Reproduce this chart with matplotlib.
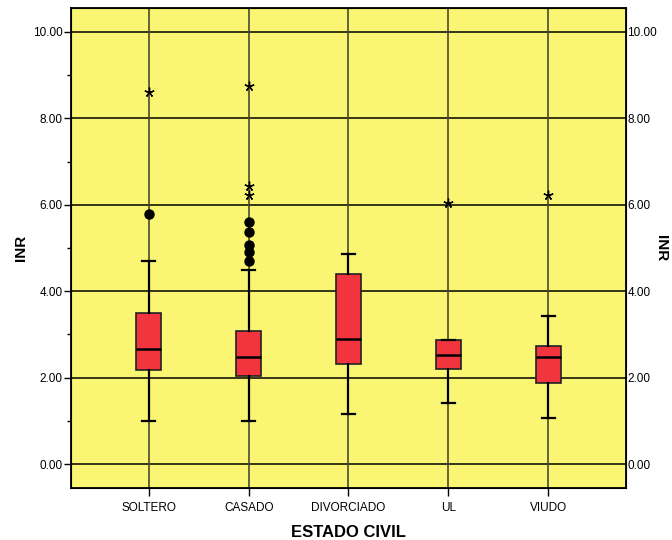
import matplotlib.pyplot as plt
from matplotlib.ticker import MultipleLocator, FormatStrFormatter

plt.rcParams['font.family'] = ['Liberation Sans', 'DejaVu Sans']

# datos INR por estado civil
grupos = ['SOLTERO', 'CASADO', 'DIVORCIADO', 'UL', 'VIUDO']
bigote_inf = [1.00, 1.00, 1.16, 1.41, 1.07]
q1 = [2.18, 2.05, 2.32, 2.20, 1.88]
mediana = [2.67, 2.49, 2.90, 2.53, 2.48]
q3 = [3.50, 3.08, 4.41, 2.88, 2.74]
bigote_sup = [4.69, 4.50, 4.87, 2.88, 3.43]
atipicos = [[5.78], [4.69, 4.90, 5.08, 5.38, 5.59], [], [], []]
extremos = [[8.61], [6.22, 6.43, 8.75], [], [6.03], [6.22]]

stats = []
for i, g in enumerate(grupos):
    stats.append({'label': g, 'whislo': bigote_inf[i], 'q1': q1[i], 'med': mediana[i],
                  'q3': q3[i], 'whishi': bigote_sup[i], 'fliers': []})

fig = plt.figure(figsize=(6.72, 5.4), dpi=100)
ax = fig.add_axes([71/672, 52/540, 555/672, 480/540])
ax.set_facecolor('#faf673')

pos = list(range(len(grupos)))
ax.set_xlim(-0.78, 4.78)
ax.set_ylim(-0.55, 10.55)

# lineas de referencia
for y in range(0, 11, 2):
    ax.axhline(y, color='black', lw=1.1, zorder=1)
for x in pos:
    ax.axvline(x, color='#4a4a2a', lw=1.2, zorder=1)

ax.bxp(stats, positions=pos, widths=0.25, patch_artist=True, showfliers=False,
       boxprops=dict(facecolor='#f2343e', edgecolor='#222222', lw=1.2),
       medianprops=dict(color='black', lw=1.8),
       whiskerprops=dict(color='black', lw=1.6),
       capprops=dict(color='black', lw=1.6), capwidths=0.13,
       zorder=3)

for x, vals in zip(pos, atipicos):
    ax.plot([x]*len(vals), vals, 'o', color='black', ms=6.5, zorder=4, ls='none')
for x, vals in zip(pos, extremos):
    ax.plot([x]*len(vals), vals, marker=(5, 2, 0), color='black',
            ms=7, mew=1.0, zorder=4, ls='none')

ax.set_xticks(pos)
ax.set_xticklabels(grupos, fontsize=8.5)
ax.yaxis.set_major_locator(MultipleLocator(2))
ax.yaxis.set_minor_locator(MultipleLocator(1))
ax.yaxis.set_major_formatter(FormatStrFormatter('%.2f'))
ax.tick_params(axis='y', labelsize=8.5, length=5, width=1, pad=1)
ax.tick_params(axis='y', which='minor', length=3, width=1)
ax.tick_params(axis='x', length=6, width=1, pad=4)
for s in ax.spines.values():
    s.set_linewidth(1.3)

ax2 = ax.twinx()
ax2.set_ylim(ax.get_ylim())
ax2.yaxis.set_major_locator(MultipleLocator(2))
ax2.yaxis.set_major_formatter(FormatStrFormatter('%.2f'))
ax2.tick_params(axis='y', labelsize=8.5, length=0, pad=1)
ax2.set_ylabel('INR', fontsize=11, fontweight='bold', rotation=270, va='center')
ax2.yaxis.set_label_coords(1.063, 0.5)

ax.set_ylabel('INR', fontsize=11, fontweight='bold', va='center')
ax.yaxis.set_label_coords(-0.09, 0.5)
ax.set_xlabel('ESTADO CIVIL', fontsize=12, fontweight='bold', labelpad=8)

fig.savefig('out.png', dpi=100)
